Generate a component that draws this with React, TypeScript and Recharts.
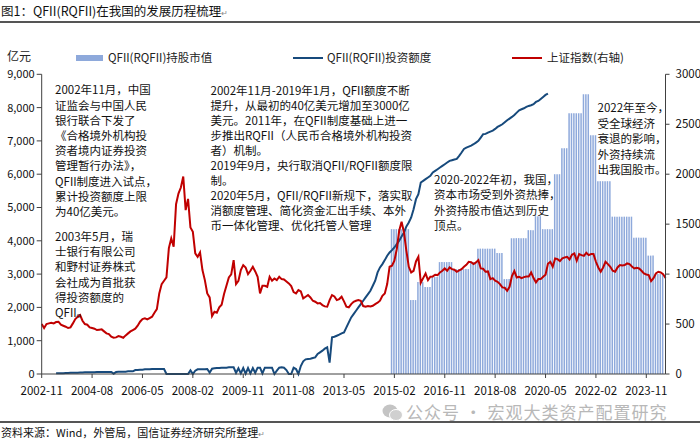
import React from 'react';
import { ComposedChart, Bar, Line, XAxis, YAxis } from 'recharts';

// month index 0 = 2002-11
const tickLabels = ['2002-11', '2004-08', '2006-05', '2008-02', '2009-11', '2011-08', '2013-05', '2015-02', '2016-11', '2018-08', '2020-05', '2022-02', '2023-11'];
const TICK_STEP = 21;
const LAST_MONTH = 260;

// 上证指数 (plotted against the left scale)
const indexValues = [
  1500, 1380, 1500, 1520, 1540, 1520, 1560, 1570, 1480, 1450,
  1420, 1380, 1400, 1520, 1650, 1720, 1770, 1600, 1500, 1480,
  1400, 1380, 1360, 1320, 1330, 1340, 1280, 1220, 1200, 1120,
  1090, 1100, 1140, 1120, 1090, 1160, 1220, 1280, 1320, 1360,
  1450, 1570, 1650, 1670, 1640, 1680, 1720, 1840, 1950, 2420,
  2700, 2800, 2900, 3780, 4070, 3820, 5100, 5420, 5600, 5930,
  4920, 5260, 4400, 4270, 3620, 3520, 3650, 3120, 2820, 2420,
  2300, 1740, 1870, 1840, 2000, 2080, 2400, 2650, 2900, 2990,
  3420, 2700, 2800, 3120, 3270, 3200, 3000, 3100, 3220, 3080,
  2920, 2420, 2650, 2650, 2620, 2920, 2800, 2870, 2820, 2920,
  2850, 2840, 2780, 2720, 2640, 2460, 2420, 2520, 2480, 2270,
  2320, 2370, 2300, 2200, 2170, 2120, 2130, 2070, 2030, 2020,
  2220, 2370, 2330, 2220, 2250, 2320, 2180, 2020, 2000, 2100,
  2170, 2200, 2220, 2200, 2040, 2020, 2040, 2030, 2050, 2100,
  2140, 2200, 2350, 2420, 2700, 3220, 3250, 3400, 3750, 4300,
  4570, 4250, 3700, 3220, 3050, 3100, 3380, 3520, 2740, 2880,
  3020, 2820, 2920, 2930, 2980, 2970, 3050, 3100, 3170, 3100,
  3200, 3150, 3130, 3070, 3110, 3150, 3220, 3280, 3370, 3360,
  3300, 3350, 3420, 3170, 3160, 3070, 3080, 2850, 2880, 2800,
  2770, 2700, 2600, 2590, 2500, 2620, 2940, 3090, 2900, 2920,
  2880, 2910, 2930, 2930, 3050, 2880, 2750, 2850, 2850, 2920,
  2980, 3310, 3370, 3220, 3470, 3450, 3390, 3470, 3500, 3520,
  3440, 3580, 3620, 3400, 3600, 3570, 3550, 3640, 3570, 3600,
  3600, 3370, 3200, 3070, 3200, 3370, 3300, 3220, 3100, 3070,
  3200, 3270, 3260, 3270, 3320, 3300, 3230, 3170, 3190, 3170,
  3100, 3020, 2990, 2970, 2790, 2880, 3020, 3070, 3050, 3000,
  2880,
];

// QFII(RQFII) 投资额度, starting at month index 6
const quotaStart = 6;
const quotaValues = [
  20, 20, 25, 25, 30, 30, 35, 35, 40, 40,
  45, 45, 50, 50, 55, 55, 55, 60, 60, 60,
  60, 60, 60, 60, 10, 60, 70, 70, 70, 70,
  80, 80, 80, 120, 120, 130, 130, 140, 140, 140,
  150, 150, 150, 150, 150, 150, 0, 0, 0, 0,
  0, 0, 0, 0, 0, 0, 110, 0, 100, 140,
  140, 140, 140, 150, 40, 160, 170, 180, 180, 190,
  190, 190, 200, 200, 200, 30, 170, 20, 180, 10,
  180, 20, 180, 30, 190, 190, 20, 190, 190, 190,
  190, 0, 100, 190, 200, 190, 120, 0, 0, 190,
  150, 0, 240, 380, 440, 450, 460, 480, 500, 600,
  650, 700, 760, 800, 340, 1100, 1120, 1150, 1180, 1220,
  1250, 1400, 1550, 1700, 1800, 1900, 2000, 2100, 2200, 2300,
  2400, 2500, 2650, 2800, 3050, 3200, 3300, 3420, 3550, 3650,
  3720, 3800, 3900, 4000, 4130, 4250, 4430, 4550, 4700, 4950,
  5250, 5400, 5750, 5800, 5850, 5900, 5950, 6050, 6100, 6150,
  6200, 6250, 6300, 6350, 6400, 6420, 6440, 6460, 6550, 6650,
  6760, 6800, 6830, 6860, 6900, 6950, 7000, 7100, 7200, 7210,
  7250, 7280, 7310, 7360, 7420, 7460, 7500, 7560, 7620, 7670,
  7720, 7780, 7850, 7920, 7950, 7980, 8020, 8050, 8070, 8100,
  8170, 8200, 8260, 8320, 8380, 8420,
];

// QFII(RQFII) 持股市值 (right scale), starting at month index 146 (2015-01)
const holdingStart = 146;
const holdingValues = [
  1450, 1450, 1450, 1450, 1450, 1450, 1450, 1450,
  740, 740, 740,
  920, 920, 920,
  870, 870, 870,
  970, 970, 970,
  1120, 1120, 1120, 1120, 1120, 1120,
  1050, 1050, 1050, 1050, 1050, 1050, 1050,
  1120, 1120, 1120,
  1255, 1255, 1255, 1255, 1255, 1255, 1255, 1255,
  1210, 1210, 1210,
  950, 950, 950,
  1360, 1360, 1360, 1360, 1360, 1360, 1360,
  1440, 1440, 1440,
  1580, 1580, 1580,
  1450, 1450, 1450, 1450, 1450,
  2000, 2000, 2000,
  2260, 2260, 2260,
  2610, 2610, 2610, 2610, 2610, 2610,
  2800, 2800, 2800,
  2390, 2390, 2390,
  1930, 1930, 1930, 1930, 1930, 1930,
  1575, 1575, 1575, 1575, 1575, 1575, 1575, 1575, 1575,
  1365, 1365, 1365, 1365, 1365, 1365,
  1185, 1185, 1185,
  1000, 1000, 1000, 1000,
];

const leftTicks = [0, 1000, 2000, 3000, 4000, 5000, 6000, 7000, 8000, 9000];
const rightTicks = [0, 500, 1000, 1500, 2000, 2500, 3000];

const data = indexValues.map((v, i) => ({
  m: i,
  index: v,
  quota: i >= quotaStart && i < quotaStart + quotaValues.length ? quotaValues[i - quotaStart] : null,
  holding: i >= holdingStart && i < holdingStart + holdingValues.length ? holdingValues[i - holdingStart] : null,
}));

const FONT = "'Noto Sans CJK SC', 'Noto Sans', sans-serif";
const AXIS = '#404040';
const BAR = '#8EA9DB';
const BLUE = '#174A7C';
const RED = '#C00000';

const note1 = ['2002年11月，中国', '证监会与中国人民', '银行联合下发了', '《合格境外机构投', '资者境内证券投资', '管理暂行办法》，', 'QFII制度进入试点，', '累计投资额度上限', '为40亿美元。'];
const note2 = ['2003年5月，瑞', '士银行有限公司', '和野村证券株式', '会社成为首批获', '得投资额度的', 'QFII。'];
const note3 = ['2002年11月-2019年1月，QFII额度不断', '提升，从最初的40亿美元增加至3000亿', '美元。2011年，在QFII制度基础上进一', '步推出RQFII（人民币合格境外机构投资', '者）机制。', '2019年9月，央行取消QFII/RQFII额度限', '制。', '2020年5月，QFII/RQFII新规下，落实取', '消额度管理、简化资金汇出手续、本外', '币一体化管理、优化托管人管理'];
const note4 = ['2020-2022年初，我国，', '资本市场受到外资热捧，', '外资持股市值达到历史', '顶点。'];
const note5 = ['2022年至今，', '受全球经济', '衰退的影响，', '外资持续流', '出我国股市。'];

const Note = ({ lines, left, top, lh = 15.2 }: { lines: string[]; left: number; top: number; lh?: number }) => (
  <div style={{ position: 'absolute', left, top, fontSize: 11.5, lineHeight: `${lh}px`, color: '#111', fontFamily: FONT, whiteSpace: 'pre' }}>
    {lines.map((l, k) => (<div key={k}>{l}</div>))}
  </div>
);

export default function App() {
  return (
    <div style={{ position: 'absolute', left: 0, top: 0, width: 700, height: 443, background: '#fff', fontFamily: FONT, overflow: 'hidden' }}>
      <div style={{ position: 'absolute', left: 1, top: 3, fontSize: 12.5, color: '#111', whiteSpace: 'pre', lineHeight: '16px' }}>
        图1：QFII(RQFII)在我国的发展历程梳理<span style={{ fontSize: 8, color: '#888' }}>↵</span>
      </div>
      <div style={{ position: 'absolute', left: 0, top: 21, width: 700, height: 1.5, background: '#555' }} />

      <div style={{ position: 'absolute', left: 7, top: 48, fontSize: 12, color: '#222', lineHeight: '16px' }}>亿元</div>

      <div style={{ position: 'absolute', left: 76, top: 55, width: 27, height: 6, background: BAR }} />
      <div style={{ position: 'absolute', left: 108, top: 49, fontSize: 11.5, color: '#222', lineHeight: '16px', whiteSpace: 'pre' }}>QFII(RQFII)持股市值</div>
      <div style={{ position: 'absolute', left: 293, top: 57, width: 30, height: 2, background: BLUE }} />
      <div style={{ position: 'absolute', left: 327, top: 49, fontSize: 11.5, color: '#222', lineHeight: '16px', whiteSpace: 'pre' }}>QFII(RQFII)投资额度</div>
      <div style={{ position: 'absolute', left: 512, top: 57, width: 30, height: 2, background: RED }} />
      <div style={{ position: 'absolute', left: 547, top: 49, fontSize: 11.5, color: '#222', lineHeight: '16px', whiteSpace: 'pre' }}>上证指数(右轴)</div>

      <div style={{ position: 'absolute', left: 0, top: 0 }}>
        <ComposedChart width={700} height={443} data={data} margin={{ top: 74.3, right: 0, bottom: 39, left: 0 }}>
          <XAxis
            dataKey="m"
            type="number"
            domain={[0, LAST_MONTH]}
            ticks={tickLabels.map((_, k) => k * TICK_STEP)}
            tickFormatter={(v: number) => tickLabels[Math.round(v / TICK_STEP)]}
            interval={0}
            height={30}
            axisLine={{ stroke: AXIS }}
            tickLine={{ stroke: AXIS }}
            tickSize={4}
            tickMargin={9}
            tick={{ fontSize: 11.5, fill: '#111', fontFamily: FONT }}
          />
          <YAxis
            yAxisId="left"
            domain={[0, 9000]}
            ticks={leftTicks}
            interval={0}
            width={41.7}
            axisLine={{ stroke: AXIS }}
            tickLine={{ stroke: AXIS }}
            tickSize={5}
            tickMargin={2}
            tickFormatter={(v: number) => v.toLocaleString('en-US')}
            tick={{ fontSize: 11, fill: '#111', fontFamily: FONT }}
          />
          <YAxis
            yAxisId="right"
            orientation="right"
            domain={[0, 3000]}
            ticks={rightTicks}
            interval={0}
            width={34.5}
            axisLine={{ stroke: AXIS }}
            tickLine={{ stroke: AXIS }}
            tickSize={4}
            tickMargin={6}
            tick={{ fontSize: 11.5, fill: '#111', fontFamily: FONT }}
          />
          <Bar yAxisId="right" dataKey="holding" fill={BAR} barSize={1.5} isAnimationActive={false} />
          <Line yAxisId="left" dataKey="quota" stroke={BLUE} strokeWidth={2} dot={false} isAnimationActive={false} />
          <Line yAxisId="left" dataKey="index" stroke={RED} strokeWidth={2} dot={false} isAnimationActive={false} />
        </ComposedChart>
      </div>

      <Note lines={note1} left={55} top={82.4} />
      <Note lines={note2} left={55} top={229} />
      <Note lines={note3} left={210.5} top={83} lh={15.05} />
      <Note lines={note4} left={434} top={171.5} lh={15.5} />
      <Note lines={note5} left={597.5} top={100.3} lh={15.5} />

      <svg style={{ position: 'absolute', left: 382, top: 403 }} width={22} height={20}>
        <ellipse cx={8} cy={8} rx={7.5} ry={6.5} fill="#c4c4c4" />
        <ellipse cx={14} cy={12} rx={6.5} ry={5.5} fill="#d0d0d0" stroke="#fff" strokeWidth={1} />
      </svg>
      <div style={{ position: 'absolute', left: 406, top: 402, fontSize: 17, color: '#b8b8b8', lineHeight: '20px', whiteSpace: 'pre', letterSpacing: 1 }}>公众号 · 宏观大类资产配置研究</div>

      <div style={{ position: 'absolute', left: 0, top: 421, width: 700, height: 1.5, background: '#555' }} />
      <div style={{ position: 'absolute', left: 1, top: 425, fontSize: 11, color: '#111', lineHeight: '15px', whiteSpace: 'pre' }}>
        资料来源：Wind，外管局，国信证券经济研究所整理<span style={{ fontSize: 8, color: '#888' }}>↵</span>
      </div>
    </div>
  );
}
